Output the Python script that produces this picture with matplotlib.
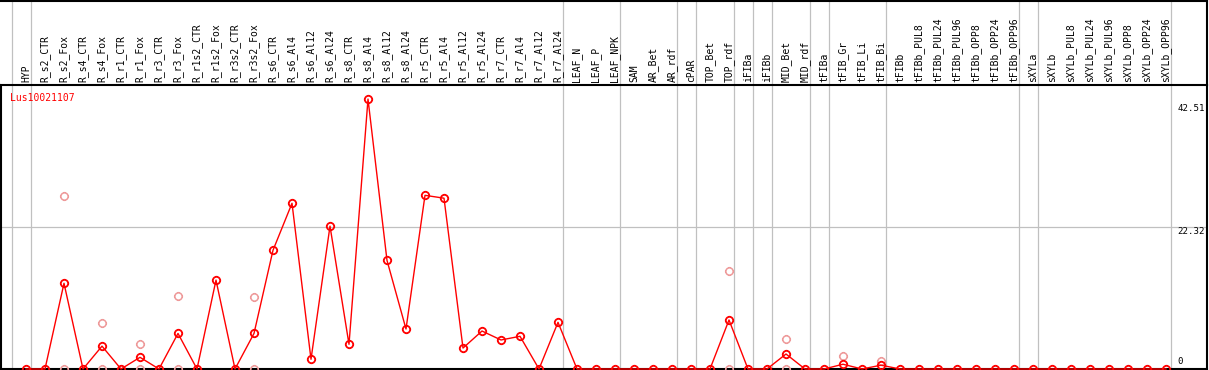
#!/usr/bin/env python3
"""Expression profile of Lus10021107 across tissues (line + replicates)."""

import numpy as np
import matplotlib
matplotlib.use("Agg")
import matplotlib.pyplot as plt
from matplotlib.path import Path

# --- data -------------------------------------------------------------
samples = [
    "HYP",
    "R_s2_CTR", "R_s2_Fox", "R_s4_CTR", "R_s4_Fox", "R_r1_CTR", "R_r1_Fox",
    "R_r3_CTR", "R_r3_Fox", "R_r1s2_CTR", "R_r1s2_Fox", "R_r3s2_CTR", "R_r3s2_Fox",
    "R_s6_CTR", "R_s6_Al4", "R_s6_Al12", "R_s6_Al24",
    "R_s8_CTR", "R_s8_Al4", "R_s8_Al12", "R_s8_Al24",
    "R_r5_CTR", "R_r5_Al4", "R_r5_Al12", "R_r5_Al24",
    "R_r7_CTR", "R_r7_Al4", "R_r7_Al12", "R_r7_Al24",
    "LEAF_N", "LEAF_P", "LEAF_NPK",
    "SAM", "AR_Bet", "AR_rdf",
    "cPAR",
    "TOP_Bet", "TOP_rdf",
    "iFIBa", "iFIBb",
    "MID_Bet", "MID_rdf",
    "tFIBa",
    "tFIB_Gr", "tFIB_Li", "tFIB_Bi",
    "tFIBb", "tFIBb_PUL8", "tFIBb_PUL24", "tFIBb_PUL96", "tFIBb_OPP8",
    "tFIBb_OPP24", "tFIBb_OPP96",
    "sXYLa",
    "sXYLb", "sXYLb_PUL8", "sXYLb_PUL24", "sXYLb_PUL96", "sXYLb_OPP8",
    "sXYLb_OPP24", "sXYLb_OPP96",
]
group_sizes = [1, 28, 3, 3, 1, 2, 1, 1, 2, 1, 3, 7, 1, 7]

mean_expr = [
    0, 0, 13.5, 0, 3.6, 0, 1.84, 0, 5.6, 0, 14.0, 0, 5.6,
    18.7, 26.1, 1.53, 22.5,
    3.89, 42.51, 17.1, 6.3,
    27.35, 26.9, 3.3, 5.98,
    4.57, 5.15, 0, 7.35,
    0, 0, 0,
    0, 0, 0,
    0,
    0, 7.72,
    0, 0,
    2.36, 0,
    0,
    0.75, 0, 0.6,
    0, 0, 0, 0, 0, 0, 0,
    0,
    0, 0, 0, 0, 0, 0, 0,
]

# individual replicates that stand apart from the mean
rep_samples = ["R_s2_Fox", "R_s4_Fox", "R_r1_Fox", "R_r3_Fox", "R_r3s2_Fox",
               "TOP_rdf", "MID_Bet", "tFIB_Gr", "tFIB_Bi",
               "R_s2_Fox", "R_s4_Fox", "R_r1_Fox", "R_r3_Fox", "R_r3s2_Fox",
               "TOP_rdf", "MID_Bet"]
rep_values = [27.2, 7.2, 3.9, 11.45, 11.3, 15.5, 4.7, 2.05, 1.2,
              0, 0, 0, 0, 0, 0, 0]

y_ticks = [0, 22.32, 42.51]
gene = "Lus10021107"

# --- figure -----------------------------------------------------------
W, H = 1209, 370
fig = plt.figure(figsize=(W / 100, H / 100), dpi=100)
ax = fig.add_axes([1 / W, 1 / H, 1206 / W, 284 / H])
head = fig.add_axes([1 / W, 285 / H, 1206 / W, 84.5 / H], sharex=ax)

x = np.arange(len(samples))
idx = {s: i for i, s in enumerate(samples)}
rep_x = [idx[s] for s in rep_samples]

# marker: open circle with four short ticks
circ = Path.unit_circle()
verts = list(circ.vertices) + [(0, 1), (0, 1.25), (0, -1), (0, -1.25),
                               (1, 0), (1.25, 0), (-1, 0), (-1.25, 0)]
codes = list(circ.codes) + [Path.MOVETO, Path.LINETO] * 4
tgt = Path(verts, codes)

ax.plot(rep_x, rep_values, ls="none", marker=tgt, ms=6.6, mfc="none",
        mec="#EE9999", mew=1.1, zorder=3, clip_on=False)
ax.plot(x, mean_expr, color="red", lw=1.0, marker=tgt, ms=6.6, mfc="none",
        mec="red", mew=1.3, zorder=4, clip_on=False)

# group separators
starts = np.concatenate([[0], np.cumsum(group_sizes)])
for a in (ax, head):
    for s in starts:
        a.axvline(s - 0.76, color="#C0C0C0", lw=0.9, zorder=1)
ax.axhline(y_ticks[1], color="#C0C0C0", lw=0.9, zorder=1)

ax.set_xlim((1 - 26) / 19, (1207 - 26) / 19)
ax.set_ylim(0, 284 / 6.35)
head.set_ylim(0, 1)

for a in (ax, head):
    a.set_xticks([]); a.set_yticks([])
    for sp in a.spines.values():
        sp.set_linewidth(1.5)
ax.spines["top"].set_visible(False)
head.spines["left"].set_visible(False)

mono = "DejaVu Sans Mono"
for i, s in enumerate(samples):
    head.text(i, 0.03, s, rotation=90, ha="center", va="bottom",
              fontsize=7, family=mono)

# value labels on the right
offs = [7, -4.5, -9.5]
for v, o in zip(y_ticks, offs):
    ax.annotate(f"{v:g}", xy=(0.9755, v), xycoords=ax.get_yaxis_transform(),
                xytext=(0, o * 0.72), textcoords="offset points",
                ha="left", va="center", fontsize=6.6, family=mono)

ax.text(0.0075, 0.972, gene, transform=ax.transAxes, color="red",
        ha="left", va="top", fontsize=7, family=mono)

fig.savefig("out.png", dpi=100)
